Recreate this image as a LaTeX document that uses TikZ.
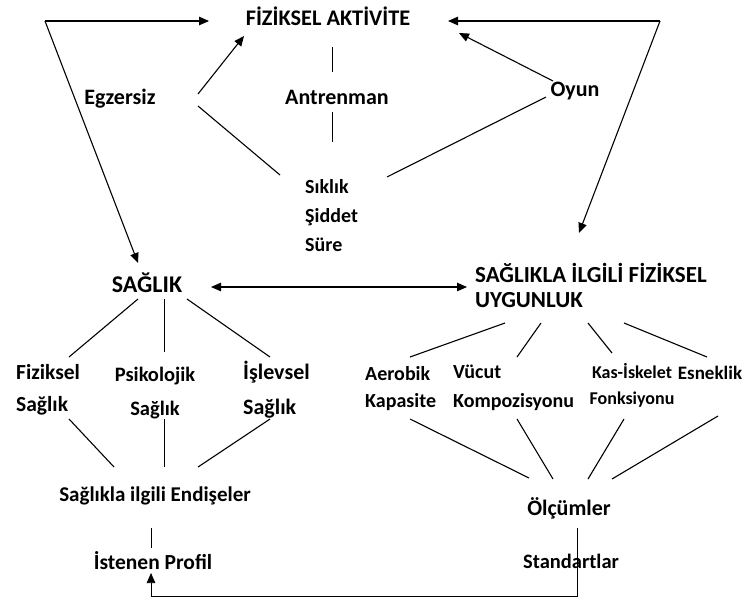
\documentclass[tikz,border=0pt]{standalone}
\usepackage{fontspec}
\setmainfont{Carlito}[BoldFont={Carlito Bold}]
\usetikzlibrary{arrows.meta}
\usetikzlibrary{positioning}
\tikzstyle{lbl} = [inner sep=1pt, font=\bfseries\fontsize{22}{30}\selectfont]
\tikzstyle{small} = [inner sep=1pt, font=\bfseries\fontsize{20}{30}\selectfont]
\tikzstyle{head} = [inner sep=1pt, font=\bfseries\fontsize{23}{25}\selectfont]
\tikzstyle{line} = [draw, line width=1.1pt]
\tikzstyle{thin} = [draw, line width=0.7pt]
\tikzstyle{arr} = [line, -{Triangle[length=10pt,width=8.5pt]}]
\tikzstyle{arrs} = [line, {Triangle[length=10pt,width=8.5pt]}-{Triangle[length=10pt,width=8.5pt]}]

\begin{document}
\begin{tikzpicture}[x=1pt,y=-1pt]
	\useasboundingbox (0,0) rectangle (744,603);
	%% Labels
	\node [lbl, font=\bfseries\fontsize{22.3}{25}\selectfont] (FA) at (328,16) {FİZİKSEL AKTİVİTE};
	\node [lbl] (Egz) at (120,99) {Egzersiz};
	\node [lbl] (Ant) at (337,97) {Antrenman};
	\node [lbl] (Oyun) at (575,91) {Oyun};
	\node [small, align=left, anchor=west, font=\bfseries\fontsize{20}{29}\selectfont] (Yuk) at (304,216) {Sıklık\\Şiddet\\Süre};
	\node [head, font=\bfseries\fontsize{24}{25}\selectfont] (Sag) at (147,283) {SAĞLIK};
	\node [head, align=left, anchor=west] (Uyg) at (474,285) {SAĞLIKLA İLGİLİ FİZİKSEL\\UYGUNLUK};
	\node [lbl, align=left, anchor=west, font=\bfseries\fontsize{21.5}{30}\selectfont] (Fiz) at (15,390) {Fiziksel\\[2pt]Sağlık};
	\node [lbl, align=center, font=\bfseries\fontsize{20.5}{30}\selectfont] (Psi) at (155,393) {Psikolojik\\[4pt]Sağlık};
	\node [lbl, align=left, anchor=west] (Isl) at (242,390) {İşlevsel\\[5pt]Sağlık};
	\node [small, align=left, anchor=west] (Aer) at (364,389) {Aerobik\\[-3pt]Kapasite};
	\node [small, align=left, anchor=west] (Vuc) at (452,388) {Vücut\\[-1pt]Kompozisyonu};
	\node [small, align=center, font=\bfseries\fontsize{18}{30}\selectfont] (Kas) at (632,385) {Kas-İskelet\\[-4pt]Fonksiyonu};
	\node [small, inner sep=0pt, font=\bfseries\fontsize{19}{30}\selectfont] (Esn) at (710,373) {Esneklik};
	\node [lbl, font=\bfseries\fontsize{21}{30}\selectfont] (End) at (155,496) {Sağlıkla ilgili Endişeler};
	\node [lbl] (Olc) at (569,508) {Ölçümler};
	\node [lbl, font=\bfseries\fontsize{21.5}{30}\selectfont] (Ist) at (153,561) {İstenen Profil};
	\node [small, font=\bfseries\fontsize{20.5}{30}\selectfont] (Std) at (571,561) {Standartlar};
	%% Corner and end points
	\coordinate (TL) at (45,21);
	\coordinate (TR) at (660,21);
	\coordinate (FAw) at (209,21);
	\coordinate (FAe) at (448,21);
	\coordinate (FAsw) at (244,36);
	\coordinate (FAse) at (459,33);
	\coordinate (SagN) at (138,263);
	\coordinate (UygN) at (579,233);
	\coordinate (SagE) at (211,287);
	\coordinate (UygW) at (467,287);
	\coordinate (EgzA) at (198,94);
	\coordinate (EgzB) at (198,106);
	\coordinate (OyunA) at (553,81);
	\coordinate (OyunB) at (546,97);
	\coordinate (YukW) at (280,175);
	\coordinate (YukE) at (387,177);
	\coordinate (Bot) at (577,596);
	\coordinate (BotL) at (151,596);
	%% Flows
	\path [arr] (TL) -- (FAw);
	\path [arr] (TR) -- (FAe);
	\path [arr] (TL) -- (SagN);
	\path [arr] (TR) -- (UygN);
	\path [arr] (EgzA) -- (FAsw);
	\path [line] (EgzB) -- (YukW);
	\path [arr] (OyunA) -- (FAse);
	\path [line] (OyunB) -- (YukE);
	\path [thin] (332,47) -- (332,72);
	\path [thin] (332,112) -- (332,142);
	\path [arrs] (SagE) -- (UygW);
	%% Branches
	\path [line] (138,299) -- (69,357);
	\path [thin] (164,299) -- (164,352);
	\path [line] (187,299) -- (270,357);
	\path [line] (505,323) -- (410,357);
	\path [line] (541,323) -- (517,357);
	\path [line] (588,323) -- (612,353);
	\path [line] (624,323) -- (707,357);
	\path [line] (69,419) -- (114,467);
	\path [thin] (164,419) -- (164,467);
	\path [line] (270,419) -- (198,467);
	\path [line] (410,419) -- (529,478);
	\path [line] (517,419) -- (553,479);
	\path [line] (624,419) -- (588,479);
	\path [line] (718,416) -- (612,479);
	\path [thin] (151,528) -- (151,548);
	\path [thin] (577,528) -- (577,548);
	\path [thin, -{Triangle[length=10pt,width=8.5pt]}] (577,543) -- (Bot) -- (BotL) -- (151,573);
\end{tikzpicture}
\end{document}
